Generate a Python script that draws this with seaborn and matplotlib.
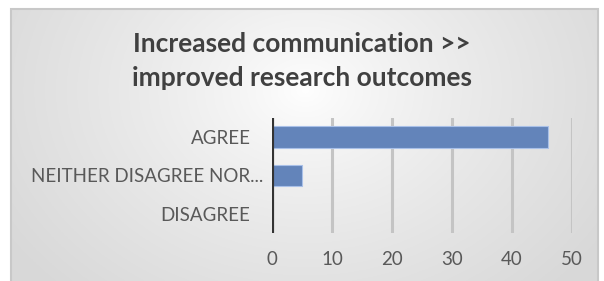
import numpy as np
import pandas as pd
import matplotlib
matplotlib.use("Agg")
import matplotlib.pyplot as plt
import matplotlib.transforms as mtransforms
import seaborn as sns

categories = ["AGREE", "NEITHER DISAGREE NOR...", "DISAGREE"]
values = [46, 5, 0]
x_ticks = [0, 10, 20, 30, 40, 50]
title = "Increased communication >>\nimproved research outcomes"

df = pd.DataFrame({"category": categories, "value": values})

sns.set_style("white")
plt.rcParams["font.family"] = ["Lato", "DejaVu Sans"]

W, H = 604, 281
fig = plt.figure(figsize=(W / 100, H / 100), dpi=100, facecolor="white")

# background panel with radial gradient
bx0, by0 = 11 / W, 0.0
bw, bh = (598 - 11) / W, (281 - 8) / H
bg = fig.add_axes([bx0, by0, bw, bh], zorder=0)
ny, nx = 200, 400
yy, xx = np.mgrid[0:ny, 0:nx]
cx, cy = nx * 0.5, ny * 0.3
d = np.sqrt(((xx - cx) / (nx * 0.6)) ** 2 + ((yy - cy) / (ny * 1.0)) ** 2)
d = np.clip(d, 0, 1) ** 0.8
top = np.array([1.0, 1.0, 1.0])
edge = np.array([0.85, 0.85, 0.85])
img = top[None, None, :] * (1 - d[..., None]) + edge[None, None, :] * d[..., None]
bg.imshow(img, aspect="auto", extent=[0, 1, 0, 1], origin="upper")
bg.set_xlim(0, 1)
bg.set_ylim(0, 1)
bg.axis("off")
# border
fig.patches.append(plt.Rectangle((bx0, by0 - 0.01), bw, bh + 0.01 - 0.5 / H, transform=fig.transFigure,
                                 fill=False, edgecolor="#c8c8c8", linewidth=1.5, zorder=1))

left, right = 272 / W, 572 / W
ptop, pbot = 1 - 118 / H, 1 - 233 / H
ax = fig.add_axes([left, pbot, right - left, ptop - pbot], zorder=2)
ax.patch.set_alpha(0)

sns.barplot(data=df, x="value", y="category", orient="h", color="#5580C8",
            width=0.57, ax=ax, edgecolor="#a9c0e8", linewidth=0.8, zorder=3)

ax.set_xlim(0, 50)
ax.set_xticks(x_ticks)
for t in x_ticks[1:]:
    ax.axvline(t, color="#c4c4c4", linewidth=2.2, zorder=1)
ax.axvline(0, color="#333333", linewidth=3, zorder=4)
ax.set_xlabel("")
ax.set_ylabel("")
for s in ax.spines.values():
    s.set_visible(False)
ax.tick_params(axis="both", length=0, labelsize=13.5, labelcolor="#595959")
ax.tick_params(axis="x", pad=13)
ax.tick_params(axis="y", pad=15.5)

# the truncated label overhangs the common right edge, as in the reference
for lbl in ax.get_yticklabels():
    if lbl.get_text().endswith("..."):
        lbl.set_transform(lbl.get_transform() +
                          mtransforms.ScaledTranslation(13 / 100, 0, fig.dpi_scale_trans))

fig.text(0.5, 1 - 61 / H, title, ha="center", va="center", fontsize=19,
         fontweight="bold", color="#404040", linespacing=1.45, zorder=5)

fig.savefig("out.png", dpi=100, facecolor="white")
